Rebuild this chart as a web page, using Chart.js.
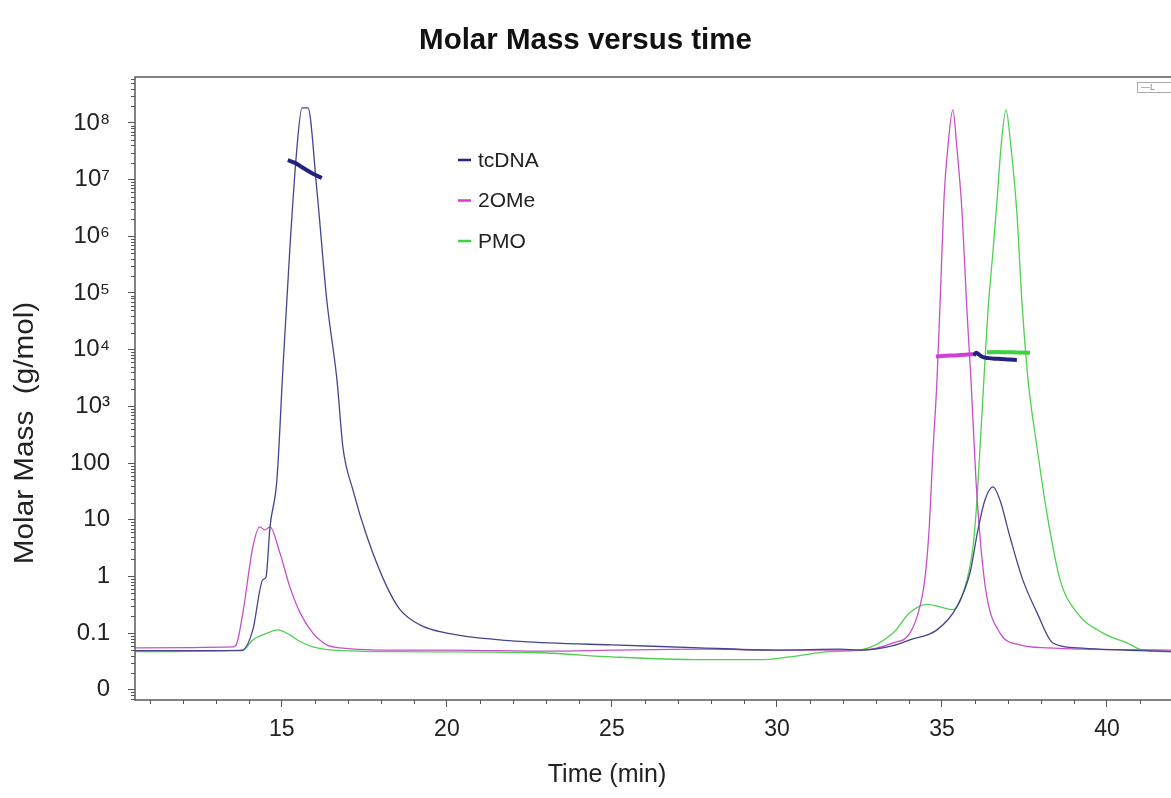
<!DOCTYPE html>
<html>
<head>
<meta charset="utf-8">
<title>Molar Mass versus time</title>
<script src="https://cdn.jsdelivr.net/npm/chart.js@4.4.1/dist/chart.umd.min.js"></script>
<style>
  body { margin: 0; background: #fff; }
  #wrap { width: 1171px; height: 798px; }
</style>
</head>
<body>
<div id="wrap"><canvas id="massChart" width="1171" height="798"></canvas></div>
<script>
// series shown in the legend
const seriesNames = ['tcDNA', '2OMe', 'PMO'];

// detector traces (thin lines), time in min
const tcdnaTime = [10.55, 13.73, 13.82, 14.12, 14.42, 14.52, 14.64, 14.85, 15.03, 15.24, 15.45, 15.61, 15.79, 16.06, 16.36, 16.67, 16.85, 17.15, 17.58, 18.18, 18.58, 19.18, 20.0, 21.61, 23.12, 25.0, 27.67, 30.09, 31.91, 32.52, 33.52, 34.03, 34.85, 35.45, 35.85, 36.09, 36.3, 36.55, 36.76, 37.06, 37.45, 37.88, 38.36, 39.09, 41.94];
const tcdnaTrace = [0.049, 0.049, 0.050, 0.114, 0.87, 0.98, 7.5, 51, 4400, 5.8e5, 3.3e7, 1.84e8, 1.84e8, 6.6e6, 7.6e4, 2900, 190, 34, 5.0, 0.66, 0.26, 0.14, 0.10, 0.076, 0.067, 0.062, 0.055, 0.050, 0.052, 0.050, 0.060, 0.076, 0.114, 0.29, 1.16, 6.6, 22, 38, 22, 5.0, 0.87, 0.23, 0.067, 0.055, 0.047];

const omeTime = [10.55, 13.52, 13.64, 13.82, 14.12, 14.33, 14.48, 14.64, 14.94, 15.24, 15.55, 15.94, 16.36, 16.76, 18.58, 20.0, 23.12, 25.0, 27.67, 30.09, 32.52, 33.52, 34.03, 34.33, 34.48, 34.61, 34.73, 34.85, 34.97, 35.06, 35.18, 35.33, 35.45, 35.61, 35.76, 35.88, 36.03, 36.18, 36.36, 36.76, 37.36, 38.18, 41.94];
const omeTrace = [0.055, 0.057, 0.067, 0.23, 3.3, 7.5, 6.6, 7.5, 2.6, 0.66, 0.23, 0.10, 0.062, 0.055, 0.050, 0.050, 0.048, 0.050, 0.052, 0.050, 0.050, 0.067, 0.10, 0.29, 0.87, 6.6, 171, 2900, 1.7e5, 4.4e6, 3.8e7, 1.7e8, 3.8e7, 2.6e6, 4.5e4, 2900, 51, 3.3, 0.44, 0.10, 0.062, 0.055, 0.050];

const pmoTime = [10.55, 13.82, 14.12, 14.55, 14.88, 15.24, 15.55, 15.94, 16.55, 18.58, 22.82, 25.0, 27.67, 29.48, 30.39, 31.61, 32.52, 33.52, 34.03, 34.55, 34.94, 35.33, 35.64, 35.94, 36.06, 36.15, 36.27, 36.39, 36.55, 36.67, 36.79, 36.94, 37.09, 37.27, 37.42, 37.61, 37.88, 38.18, 38.58, 39.09, 39.88, 40.61, 41.09, 41.94];
const pmoTrace = [0.047, 0.050, 0.076, 0.10, 0.114, 0.093, 0.071, 0.057, 0.050, 0.047, 0.045, 0.038, 0.034, 0.034, 0.038, 0.047, 0.050, 0.10, 0.23, 0.32, 0.29, 0.26, 0.51, 3.3, 22, 171, 2900, 4.5e4, 5.8e5, 4.4e6, 3.8e7, 1.7e8, 3.8e7, 2.6e6, 7.6e4, 2900, 190, 13, 0.87, 0.23, 0.10, 0.067, 0.050, 0.047];

// molar mass (thick segments), g/mol
const tcdnaMassTime1 = [15.18, 15.4, 15.65, 15.9, 16.21];
const tcdnaMass1 = [2.2e7, 1.97e7, 1.6e7, 1.31e7, 1.07e7];
const tcdnaMassTime2 = [35.97, 36.03, 36.09, 36.2, 36.4, 36.7, 37.0, 37.27];
const tcdnaMass2 = [7.9e3, 8.8e3, 8.5e3, 7.6e3, 7.1e3, 6.9e3, 6.7e3, 6.6e3];
const omeMassTime = [34.82, 35.1, 35.4, 35.7, 36.0];
const omeMass = [7.6e3, 7.8e3, 7.9e3, 8.1e3, 8.4e3];
const pmoMassTime = [36.36, 36.7, 37.0, 37.3, 37.67];
const pmoMass = [9.0e3, 9.1e3, 9.0e3, 8.9e3, 8.8e3];

// axis ticks
const xTickValues = [15, 20, 25, 30, 35, 40];
const xTickLabels = ['15', '20', '25', '30', '35', '40'];
const yTickValues = [0.01, 0.1, 1, 10, 100, 1e3, 1e4, 1e5, 1e6, 1e7, 1e8];
const yTickLabels = ['0', '0.1', '1', '10', '100', '10³', '10⁴', '10⁵', '10⁶', '10⁷', '10⁸'];

const pts = (xs, ys) => xs.map((x, i) => ({ x: x, y: ys[i] }));

const navy = '#23237f', magenta = '#d23fd2', green = '#3fd23f';
const fontName = '"Liberation Sans", Arial, sans-serif';

Chart.defaults.font.family = fontName;
Chart.defaults.color = '#222';

function trace(label, xs, ys, color) {
  return { label: label, data: pts(xs, ys), borderColor: color, borderWidth: 1.3,
    pointRadius: 0, cubicInterpolationMode: 'monotone', order: 2 };
}
function mass(label, xs, ys, color) {
  return { label: label, data: pts(xs, ys), borderColor: color, borderWidth: 4,
    pointRadius: 0, cubicInterpolationMode: 'monotone', order: 0 };
}

// legend drawn inside the plot
const insideLegend = {
  id: 'insideLegend',
  afterDatasetsDraw(chart) {
    const ctx = chart.ctx;
    const cols = [navy, magenta, green];
    ctx.save();
    ctx.font = '21px ' + fontName;
    ctx.textBaseline = 'middle';
    ctx.fillStyle = '#222';
    seriesNames.forEach((name, i) => {
      const y = 160 + i * 40.5;
      ctx.strokeStyle = cols[i];
      ctx.lineWidth = 2.5;
      ctx.beginPath();
      ctx.moveTo(458, y); ctx.lineTo(471, y);
      ctx.stroke();
      ctx.fillText(name, 478, y + 1);
    });
    ctx.restore();
  }
};

// frame, minor ticks, axis titles
const decorations = {
  id: 'decorations',
  afterDraw(chart) {
    const { ctx, chartArea: a, scales: { x, y } } = chart;
    ctx.save();
    ctx.strokeStyle = '#555';
    ctx.lineWidth = 1;
    ctx.beginPath();
    for (let t = Math.ceil(x.min); t <= x.max; t++) {
      if (t % 5 === 0) continue;
      const px = Math.round(x.getPixelForValue(t)) + 0.5;
      ctx.moveTo(px, a.bottom); ctx.lineTo(px, a.bottom + 4);
    }
    for (let e = -3; e <= 8; e++) {
      for (let m = 2; m <= 9; m++) {
        const v = m * Math.pow(10, e);
        if (v < y.min || v > y.max) continue;
        const py = Math.round(y.getPixelForValue(v)) + 0.5;
        ctx.moveTo(a.left - 4, py); ctx.lineTo(a.left, py);
      }
    }
    ctx.stroke();

    ctx.strokeStyle = '#5a5a5a';
    ctx.lineWidth = 1.5;
    ctx.strokeRect(a.left, a.top, a.right - a.left + 2, a.bottom - a.top);

    // cropped legend button, top right
    ctx.strokeStyle = '#aaa';
    ctx.lineWidth = 1;
    ctx.strokeRect(1137.5, 82.5, 40, 10);
    ctx.fillStyle = '#888';
    ctx.font = '9px ' + fontName;
    ctx.textBaseline = 'middle';
    ctx.fillText('—L', 1141, 88);

    ctx.fillStyle = '#222';
    ctx.textAlign = 'center';
    ctx.font = '25px ' + fontName;
    ctx.fillText('Time (min)', 607, 775);
    ctx.translate(26, 433);
    ctx.rotate(-Math.PI / 2);
    ctx.scale(1.1, 1);
    ctx.font = '27px ' + fontName;
    ctx.fillText('Molar Mass  (g/mol)', 0, 0);
    ctx.restore();
  }
};

new Chart(document.getElementById('massChart'), {
  type: 'line',
  data: {
    datasets: [
      mass(seriesNames[0] + ' molar mass', tcdnaMassTime1, tcdnaMass1, navy),
      mass(seriesNames[0] + ' molar mass', tcdnaMassTime2, tcdnaMass2, navy),
      mass(seriesNames[1] + ' molar mass', omeMassTime, omeMass, magenta),
      mass(seriesNames[2] + ' molar mass', pmoMassTime, pmoMass, green),
      trace(seriesNames[0], tcdnaTime, tcdnaTrace, '#45458e'),
      trace(seriesNames[1], omeTime, omeTrace, '#c650c8'),
      trace(seriesNames[2], pmoTime, pmoTrace, '#4fd04f')
    ]
  },
  options: {
    responsive: false,
    animation: false,
    layout: { padding: 0 },
    plugins: {
      legend: { display: false },
      tooltip: { enabled: false },
      title: {
        display: true,
        text: 'Molar Mass versus time',
        color: '#111',
        font: { size: 29.5, weight: 'bold' },
        padding: { top: 23, bottom: 18.6 }
      }
    },
    scales: {
      x: {
        type: 'linear',
        min: 10.55,
        max: 41.94,
        afterBuildTicks: s => { s.ticks = xTickValues.map(v => ({ value: v })); },
        afterFit: s => { s.height = 98; },
        ticks: {
          font: { size: 23 },
          color: '#222',
          padding: 9,
          maxRotation: 0,
          callback: (v, i) => xTickLabels[i]
        },
        grid: { drawOnChartArea: false, tickLength: 7, color: '#555' },
        border: { display: false }
      },
      y: {
        type: 'logarithmic',
        min: Math.pow(10, -2.18),
        max: Math.pow(10, 8.81),
        afterBuildTicks: s => { s.ticks = yTickValues.map(v => ({ value: v, major: true })); },
        afterFit: s => { s.width = 135; },
        ticks: {
          font: { size: 24 },
          color: '#222',
          padding: 18,
          callback: (v, i) => yTickLabels[i]
        },
        grid: { drawOnChartArea: false, tickLength: 7, color: '#555' },
        border: { display: false }
      }
    }
  },
  plugins: [insideLegend, decorations]
});
</script>
</body>
</html>
